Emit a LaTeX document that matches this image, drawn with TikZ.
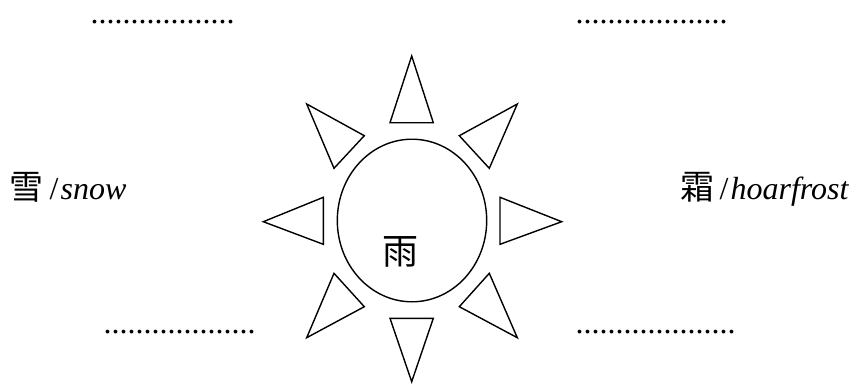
\documentclass[tikz,border=0pt]{standalone}
\usepackage{fontspec}
\setmainfont{Liberation Serif}
\newfontfamily\tnr{Liberation Serif}
\newfontfamily\cjk{Noto Sans CJK SC}
\begin{document}
\begin{tikzpicture}[x=1pt,y=-1pt,line width=1.4pt,line join=miter,
  ray/.style={draw=black},
  txt/.style={inner sep=0pt,anchor=base west,font=\tnr\fontsize{32}{38}\selectfont},
  dots/.style={txt,text height=6pt,text depth=0pt}]
\useasboundingbox (0,0) rectangle (859,383);
% dotted blanks
\node[dots] (d1) at (90,23) {..................};
\node[dots] (d2) at (575,23) {...................};
\node[dots] (d3) at (103,333) {...................};
\node[dots] (d4) at (575,333) {....................};
% side labels
\node[txt] (snow) at (9,199) {{\cjk\fontsize{34}{38}\selectfont 雪}\hspace{6pt}/\hspace{2pt}{\itshape snow}};
\node[txt] (frost) at (680,199) {{\cjk\fontsize{34}{38}\selectfont 霜}\hspace{5pt}/\hspace{2pt}{\itshape hoarfrost}};
% centre
\draw (412,220.5) ellipse [x radius=74.7, y radius=81.3];
\node[inner sep=0pt,font=\cjk\fontsize{36}{40}\selectfont] (rain) at (400,252) {雨};
% rays
\draw[ray] (411.7,56) -- (390,122.7) -- (433.3,122.7) -- cycle;
\draw[ray] (411.7,381.7) -- (390,318.3) -- (433.3,318.3) -- cycle;
\draw[ray] (263.3,221.7) -- (323.3,197.3) -- (323.3,244.3) -- cycle;
\draw[ray] (561.7,221.7) -- (500,197.3) -- (500,244.3) -- cycle;
\draw[ray] (306.7,104) -- (364.3,135.7) -- (334,168.3) -- cycle;
\draw[ray] (517.3,104) -- (459.3,135.7) -- (489.3,168.3) -- cycle;
\draw[ray] (306.7,337.7) -- (364.3,306.7) -- (334,273.3) -- cycle;
\draw[ray] (517.3,337.7) -- (459.3,306.7) -- (489.3,273.3) -- cycle;
\end{tikzpicture}
\end{document}
